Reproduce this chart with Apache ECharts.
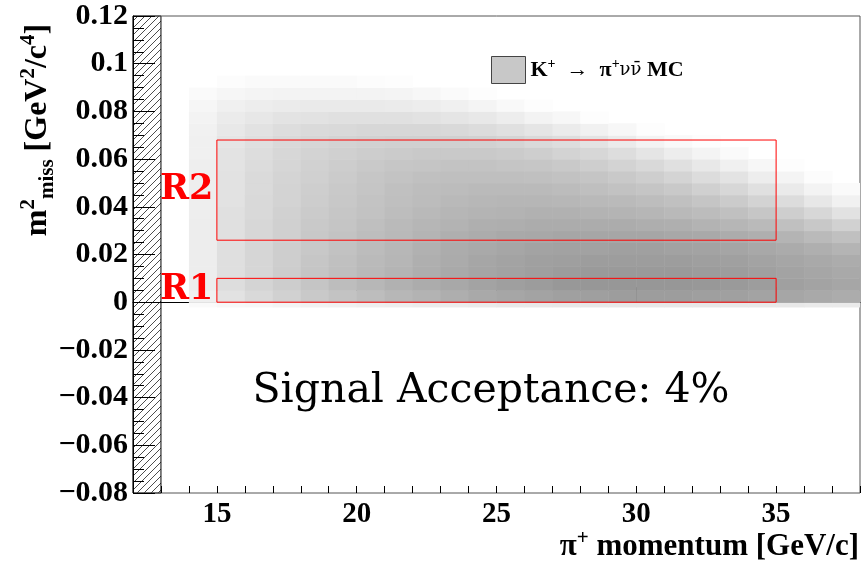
<!DOCTYPE html>
<html>
<head>
<meta charset="utf-8">
<script src="https://cdn.jsdelivr.net/npm/echarts@6/dist/echarts.min.js"></script>
<style>
  html, body { margin: 0; padding: 0; background: #fff; }
  #chart { width: 864px; height: 563px; }
</style>
</head>
<body>
<div id="chart"></div>
<script>
// pi+ momentum bins (lower edge, 1 GeV/c wide)
const momentumLow = [14, 15, 16, 17, 18, 19, 20, 21, 22, 23, 24, 25, 26, 27, 28, 29, 30, 31, 32, 33, 34, 35, 36, 37]
const momentumBinWidth = 1
// m2miss bin edges
const m2Edges = [-0.002, 0, 0.005, 0.01, 0.015, 0.02, 0.025, 0.03, 0.035, 0.04, 0.045,
  0.05, 0.055, 0.06, 0.065, 0.07, 0.075, 0.08, 0.085, 0.09, 0.095]
// MC counts (arbitrary units), one row per m2 bin, bottom row first
const counts = [
  [3, 5, 6, 8, 9, 10, 11, 12, 13, 13, 14, 15, 15, 16, 16, 16, 16, 16, 16, 15, 15, 15, 14, 14],
  [10, 19, 25, 30, 35, 39, 43, 47, 50, 53, 56, 58, 60, 62, 63, 64, 64, 64, 63, 62, 60, 58, 56, 54],
  [12, 22, 28, 33, 38, 43, 47, 51, 54, 57, 60, 63, 65, 67, 68, 68, 68, 68, 67, 66, 64, 62, 60, 58],
  [12, 21, 27, 33, 38, 42, 46, 49, 53, 56, 59, 61, 63, 65, 66, 66, 66, 66, 65, 64, 62, 60, 58, 56],
  [12, 21, 27, 32, 37, 41, 45, 48, 52, 55, 58, 60, 62, 63, 64, 64, 64, 64, 63, 62, 60, 58, 56, 54],
  [12, 21, 27, 32, 36, 40, 44, 47, 51, 54, 56, 58, 60, 61, 61, 62, 62, 61, 60, 59, 57, 55, 52, 49],
  [12, 20, 26, 31, 36, 39, 43, 46, 49, 52, 54, 56, 57, 58, 58, 58, 58, 57, 56, 54, 52, 49, 45, 41],
  [12, 20, 26, 31, 35, 38, 42, 45, 48, 50, 52, 53, 54, 54, 54, 54, 53, 52, 50, 48, 45, 41, 36, 30],
  [11, 20, 25, 30, 34, 37, 40, 43, 46, 48, 49, 50, 51, 51, 50, 49, 48, 46, 44, 41, 37, 32, 26, 19],
  [11, 19, 25, 29, 33, 36, 39, 42, 44, 46, 47, 48, 48, 47, 46, 45, 43, 41, 38, 34, 29, 23, 16, 9],
  [11, 19, 24, 29, 32, 35, 38, 41, 43, 44, 45, 45, 45, 44, 42, 40, 38, 35, 31, 26, 20, 14, 8, 3],
  [11, 19, 24, 28, 31, 34, 37, 39, 41, 42, 42, 42, 41, 40, 38, 35, 32, 28, 23, 18, 12, 7, 2, 0],
  [11, 18, 23, 27, 30, 33, 35, 37, 38, 39, 39, 38, 37, 35, 32, 29, 25, 20, 15, 10, 5, 1, 0, 0],
  [10, 18, 22, 26, 29, 31, 33, 34, 35, 35, 35, 34, 32, 29, 26, 22, 17, 12, 7, 3, 0, 0, 0, 0],
  [10, 17, 21, 25, 27, 29, 30, 31, 31, 31, 30, 28, 25, 22, 18, 13, 8, 4, 1, 0, 0, 0, 0, 0],
  [9, 15, 19, 22, 24, 25, 26, 26, 26, 25, 23, 20, 17, 13, 9, 5, 1, 0, 0, 0, 0, 0, 0, 0],
  [8, 13, 16, 18, 19, 20, 20, 20, 19, 17, 15, 12, 8, 5, 1, 0, 0, 0, 0, 0, 0, 0, 0, 0],
  [6, 10, 12, 13, 14, 14, 14, 13, 12, 10, 7, 4, 1, 0, 0, 0, 0, 0, 0, 0, 0, 0, 0, 0],
  [3, 6, 7, 8, 8, 8, 8, 7, 5, 3, 1, 0, 0, 0, 0, 0, 0, 0, 0, 0, 0, 0, 0, 0],
  [0, 2, 3, 3, 3, 3, 2, 1, 0, 0, 0, 0, 0, 0, 0, 0, 0, 0, 0, 0, 0, 0, 0, 0]
]
const xMajorTicks = [15, 20, 25, 30, 35]
// signal regions: [pMin, pMax, m2Min, m2Max]
const regionR1 = [15, 35, 0, 0.01]
const regionR2 = [15, 35, 0.026, 0.068]
// excluded momentum band (hatched)
const vetoBand = [12, 13]

const serif = 'Liberation Serif'

const cells = []
counts.forEach((row, r) => {
  row.forEach((v, c) => {
    if (v > 0) cells.push([momentumLow[c], m2Edges[r], m2Edges[r + 1], v])
  })
})

function hatchPattern() {
  const cv = document.createElement('canvas')
  cv.width = 7
  cv.height = 7
  const g = cv.getContext('2d')
  g.strokeStyle = '#000'
  g.lineWidth = 0.7
  g.beginPath()
  g.moveTo(0, 7); g.lineTo(7, 0)
  g.moveTo(-1, 1); g.lineTo(1, -1)
  g.moveTo(6, 8); g.lineTo(8, 6)
  g.stroke()
  return cv
}

const supStyle = { fontFamily: serif, fontWeight: 'bold', fontSize: 21, lineHeight: 18, verticalAlign: 'top', color: '#000' }
const subStyle = { fontFamily: serif, fontWeight: 'bold', fontSize: 21, lineHeight: 18, verticalAlign: 'bottom', color: '#000' }
const bigStyle = { fontFamily: serif, fontWeight: 'bold', fontSize: 32, lineHeight: 40, color: '#000' }
const titleBig = Object.assign({}, bigStyle, { fontSize: 31, lineHeight: 38 })

var myChart = echarts.init(document.getElementById('chart'))
const option = {
  animation: false,
  grid: {
    left: 133, right: 4, top: 16, bottom: 70,
    show: true, borderColor: '#555', borderWidth: 1
  },
  legend: {
    left: 486, top: 51,
    itemWidth: 34, itemHeight: 27, itemGap: 8,
    data: [{ name: 'sig', icon: 'rect', itemStyle: { color: '#c8c8c8', borderColor: '#444', borderWidth: 1 } }],
    formatter: () => '{b|K}{s|+}{a|  →  }{b|π}{s|+}{n|νν̄}{b| MC}',
    textStyle: {
      rich: {
        b: { fontFamily: serif, fontWeight: 'bold', fontSize: 22, lineHeight: 26, color: '#000' },
        n: { fontFamily: 'DejaVu Serif', fontSize: 18, lineHeight: 26, color: '#000' },
        a: { fontFamily: serif, fontSize: 22, lineHeight: 26, color: '#000' },
        s: { fontFamily: serif, fontWeight: 'bold', fontSize: 14, lineHeight: 13, verticalAlign: 'top', color: '#000' }
      }
    }
  },
  visualMap: {
    show: false, type: 'continuous', seriesIndex: 0, dimension: 3,
    min: 0, max: 100,
    inRange: { color: ['#ffffff', '#666666'] }
  },
  xAxis: [{
    type: 'value', min: 12, max: 38,
    axisLine: { lineStyle: { color: '#000', width: 1 } },
    axisTick: { customValues: xMajorTicks, inside: true, length: 15, lineStyle: { color: '#000' } },
    axisLabel: {
      customValues: xMajorTicks, margin: 7, color: '#000',
      fontFamily: serif, fontWeight: 'bold', fontSize: 29
    },
    splitLine: { show: false }
  }, {
    type: 'value', min: 12, max: 38, interval: 1, position: 'bottom',
    axisLine: { show: false },
    axisTick: { inside: true, length: 7, lineStyle: { color: '#000' } },
    axisLabel: { show: false },
    splitLine: { show: false }
  }],
  yAxis: {
    type: 'value', min: -0.08, max: 0.12, interval: 0.02,
    axisLine: { show: true, lineStyle: { color: '#000', width: 1 } },
    axisTick: { show: true, inside: true, length: 22, lineStyle: { color: '#000' } },
    minorTick: { show: true, splitNumber: 4, length: 11, lineStyle: { color: '#000' } },
    axisLabel: {
      margin: 5, color: '#000', fontFamily: serif, fontWeight: 'bold', fontSize: 30,
      formatter: v => {
        const r = Math.round(v * 100) / 100
        return (r < 0 ? '\u2212' : '') + String(Math.abs(r))
      }
    },
    splitLine: { show: false }
  },
  title: {
    text: 'Signal Acceptance: 4%',
    left: 486, top: 366, textAlign: 'center',
    textStyle: { fontFamily: 'DejaVu Serif', fontWeight: 'normal', fontSize: 41, color: '#000' }
  },
  graphic: [{
    type: 'text', x: 38, y: 130, rotation: Math.PI / 2,
    style: {
      text: '{b|m}{sup|2}{sub|miss}{b| [GeV}{sup|2}{b|/c}{sup|4}{b|]}',
      align: 'center', verticalAlign: 'middle',
      rich: { b: bigStyle, sup: supStyle, sub: subStyle }
    }
  }, {
    type: 'text', x: 859, y: 547,
    style: {
      text: '{b|π}{sup|+}{b| momentum [GeV/c]}',
      align: 'right', verticalAlign: 'middle',
      rich: { b: titleBig, sup: supStyle }
    }
  }],
  series: [{
    name: 'sig',
    type: 'custom',
    clip: true,
    z: 1,
    data: cells,
    renderItem: (params, api) => {
      const p0 = api.coord([api.value(0), api.value(2)])
      const p1 = api.coord([api.value(0) + momentumBinWidth, api.value(1)])
      return {
        type: 'rect',
        shape: { x: p0[0], y: p0[1], width: p1[0] - p0[0] + 0.5, height: p1[1] - p0[1] + 0.5 },
        style: { fill: api.visual('color') }
      }
    }
  }, {
    name: 'veto',
    type: 'custom',
    z: -1,
    data: [vetoBand],
    renderItem: (params, api) => {
      const p0 = api.coord([api.value(0), 0.12])
      const p1 = api.coord([api.value(1), -0.08])
      return {
        type: 'rect',
        shape: { x: p0[0], y: p0[1], width: p1[0] - p0[0], height: p1[1] - p0[1] },
        style: { fill: { image: hatchPattern(), repeat: 'repeat' }, stroke: '#000', lineWidth: 1 }
      }
    }
  }, {
    name: 'regions',
    type: 'custom',
    z: 5,
    data: [],
    renderItem: () => null,
    markArea: {
      silent: true,
      z: 10,
      itemStyle: { color: 'rgba(0,0,0,0)', borderColor: '#ff0000', borderWidth: 1 },
      label: {
        show: true, position: 'left', distance: 3, color: '#ff0000',
        fontFamily: 'DejaVu Serif', fontWeight: 'bold', fontSize: 35
      },
      data: [
        [{ name: 'R1', xAxis: regionR1[0], yAxis: regionR1[2] }, { xAxis: regionR1[1], yAxis: regionR1[3] }],
        [{ name: 'R2', xAxis: regionR2[0], yAxis: regionR2[2] }, { xAxis: regionR2[1], yAxis: regionR2[3] }]
      ]
    }
  }]
}
myChart.setOption(option)
</script>
</body>
</html>
